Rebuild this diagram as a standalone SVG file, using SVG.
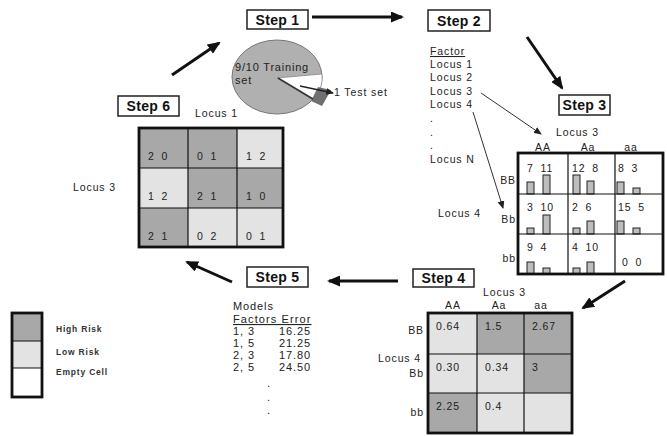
<svg xmlns="http://www.w3.org/2000/svg" width="667" height="436" viewBox="0 0 667 436">
<style>
text{font-family:"Liberation Sans",Arial,sans-serif;fill:#222}
.t{font-size:10.5px;letter-spacing:0.9px}
.step{font-size:14px;font-weight:bold;letter-spacing:0.3px;fill:#111}
.sbox{fill:#fff;stroke:#222;stroke-width:1.5}
.dk{fill:#a8a8a8}
.lt{fill:#e3e3e3}
.wh{fill:#fff}
.gl{stroke:#111;stroke-width:1.2;fill:none}
.gb{stroke:#111;stroke-width:2.8;fill:none}
.bar{fill:#bdbdbd;stroke:#222;stroke-width:1}
.big{stroke:#111;stroke-width:3;fill:none;marker-end:url(#ah)}
.thin{stroke:#333;stroke-width:1;fill:none;marker-end:url(#ahs)}
.leg{font-size:8.5px;font-weight:bold;letter-spacing:0.8px;fill:#333}
</style>
<defs>
<marker id="ah" markerUnits="userSpaceOnUse" markerWidth="13" markerHeight="11" refX="11" refY="5.5" orient="auto"><path d="M0,0 L13,5.5 L0,11 Z" fill="#111"/></marker>
<marker id="ahs" markerUnits="userSpaceOnUse" markerWidth="8" markerHeight="7" refX="7" refY="3.5" orient="auto"><path d="M0,0 L8,3.5 L0,7 Z" fill="#222"/></marker>
</defs>
<rect width="667" height="436" fill="#fff"/>

<g id="connectors">
<line class="big" x1="172" y1="75" x2="219" y2="43"/>
<line class="big" x1="312" y1="17" x2="402" y2="17"/>
<line class="big" x1="527" y1="37" x2="562" y2="88"/>
<line class="big" x1="625" y1="281" x2="583" y2="308"/>
<line class="big" x1="398" y1="281" x2="329" y2="281"/>
<line class="big" x1="232" y1="282" x2="187" y2="262"/>
<line class="thin" x1="481" y1="93" x2="541" y2="134"/>
<line class="thin" x1="473" y1="112" x2="503" y2="208"/>
</g>

<g id="step1">
<rect class="sbox" x="247" y="10" width="61" height="19"/>
<text class="step" x="277.5" y="25" text-anchor="middle">Step 1</text>
</g>
<g id="pie">
<ellipse cx="277" cy="77" rx="45" ry="37" fill="#b0b0b0" stroke="#777" stroke-width="1"/>
<path d="M277,78 L322,74 A45,37 0 0,1 313,100 Z" fill="#fff" stroke="#888" stroke-width="0.8"/>
<path d="M318,87 L331,90 L322,106 L311,101 Z" fill="#707070"/>
<line x1="278" y1="78" x2="313" y2="99" stroke="#333" stroke-width="1.5"/>
<line x1="300" y1="86" x2="333" y2="93" stroke="#222" stroke-width="1.5" marker-end="url(#ahs)"/>
<text class="t" x="235" y="71" style="font-size:11px;letter-spacing:0.8px">9/10 Training</text>
<text class="t" x="235" y="84" style="font-size:11px;letter-spacing:0.8px">set</text>
<text class="t" x="334" y="96">1 Test set</text>
</g>

<g id="step2">
<rect class="sbox" x="428" y="10" width="62" height="21"/>
<text class="step" x="459" y="26" text-anchor="middle">Step 2</text>
<text class="t" x="430" y="55" text-decoration="underline">Factor</text>
<text class="t" x="430" y="68">Locus 1</text>
<text class="t" x="430" y="81">Locus 2</text>
<text class="t" x="430" y="95">Locus 3</text>
<text class="t" x="430" y="108">Locus 4</text>
<text class="t" x="430" y="122">.</text>
<text class="t" x="430" y="136">.</text>
<text class="t" x="430" y="149">.</text>
<text class="t" x="430" y="163">Locus N</text>
</g>

<g id="step3">
<rect class="sbox" x="559" y="95" width="51" height="20"/>
<text class="step" x="584.5" y="110" text-anchor="middle">Step 3</text>
<text class="t" x="556" y="136">Locus 3</text>
<text class="t" x="543" y="151" text-anchor="middle">AA</text>
<text class="t" x="588" y="151" text-anchor="middle">Aa</text>
<text class="t" x="631" y="151" text-anchor="middle">aa</text>
<text class="t" x="516" y="184" text-anchor="end">BB</text>
<text class="t" x="516" y="223" text-anchor="end">Bb</text>
<text class="t" x="516" y="262" text-anchor="end">bb</text>
<text class="t" x="438" y="217">Locus 4</text>
<rect x="518" y="153" width="145" height="121" fill="#fff"/>
<g class="t" style="word-spacing:3px">
<text x="527" y="172">7 11</text>
<text x="572" y="172">12 8</text>
<text x="618" y="172">8 3</text>
<text x="527" y="211">3 10</text>
<text x="572" y="211">2 6</text>
<text x="618" y="211">15 5</text>
<text x="527" y="251">9 4</text>
<text x="572" y="251">4 10</text>
<text x="622" y="266">0 0</text>
</g>
<rect class="bar" x="527" y="182" width="7" height="12"/>
<rect class="bar" x="543" y="175" width="7" height="19"/>
<rect class="bar" x="573" y="175" width="7" height="19"/>
<rect class="bar" x="587" y="181" width="7" height="13"/>
<rect class="bar" x="617" y="182" width="7" height="12"/>
<rect class="bar" x="633" y="188" width="7" height="6"/>
<rect class="bar" x="527" y="228" width="7" height="6"/>
<rect class="bar" x="543" y="215" width="7" height="19"/>
<rect class="bar" x="573" y="228" width="7" height="6"/>
<rect class="bar" x="587" y="221" width="7" height="13"/>
<rect class="bar" x="617" y="221" width="7" height="13"/>
<rect class="bar" x="633" y="228" width="7" height="6"/>
<rect class="bar" x="527" y="262" width="7" height="12"/>
<rect class="bar" x="543" y="268" width="7" height="6"/>
<rect class="bar" x="573" y="268" width="7" height="6"/>
<rect class="bar" x="587" y="262" width="7" height="12"/>
<path class="gl" d="M568,153 V274 M615,153 V274 M518,194 H663 M518,234 H663"/>
<rect class="gb" x="518" y="153" width="145" height="121"/>
</g>

<g id="step4">
<rect class="sbox" x="413" y="269" width="61" height="18"/>
<text class="step" x="443.5" y="283" text-anchor="middle">Step 4</text>
<text class="t" x="483" y="296">Locus 3</text>
<text class="t" x="453" y="309" text-anchor="middle">AA</text>
<text class="t" x="499" y="309" text-anchor="middle">Aa</text>
<text class="t" x="541" y="309" text-anchor="middle">aa</text>
<text class="t" x="424" y="334" text-anchor="end">BB</text>
<text class="t" x="424" y="377" text-anchor="end">Bb</text>
<text class="t" x="424" y="416" text-anchor="end">bb</text>
<text class="t" x="378" y="362">Locus 4</text>
<rect class="lt" x="428" y="313" width="49" height="41"/>
<rect class="dk" x="477" y="313" width="47" height="41"/>
<rect class="dk" x="524" y="313" width="48" height="41"/>
<rect class="lt" x="428" y="354" width="49" height="39"/>
<rect class="lt" x="477" y="354" width="47" height="39"/>
<rect class="dk" x="524" y="354" width="48" height="39"/>
<rect class="dk" x="428" y="393" width="49" height="40"/>
<rect class="lt" x="477" y="393" width="47" height="40"/>
<rect class="lt" x="524" y="393" width="48" height="40"/>
<text class="t" x="436" y="330">0.64</text>
<text class="t" x="485" y="330">1.5</text>
<text class="t" x="532" y="330">2.67</text>
<text class="t" x="436" y="371">0.30</text>
<text class="t" x="485" y="371">0.34</text>
<text class="t" x="532" y="371">3</text>
<text class="t" x="436" y="410">2.25</text>
<text class="t" x="485" y="410">0.4</text>
<path class="gl" d="M477,313 V433 M524,313 V433 M428,354 H572 M428,393 H572"/>
<rect class="gb" x="428" y="313" width="144" height="120"/>
</g>

<g id="step5">
<rect class="sbox" x="247" y="267" width="61" height="20"/>
<text class="step" x="277.5" y="282" text-anchor="middle">Step 5</text>
<g style="font-size:11px;letter-spacing:0.9px">
<text x="233" y="310">Models</text>
<text x="233" y="323" text-decoration="underline" style="letter-spacing:1.1px">Factors Error</text>
<text x="233" y="335">1, 3</text>
<text x="311" y="335" text-anchor="end">16.25</text>
<text x="233" y="347">1, 5</text>
<text x="311" y="347" text-anchor="end">21.25</text>
<text x="233" y="359">2, 3</text>
<text x="311" y="359" text-anchor="end">17.80</text>
<text x="233" y="371">2, 5</text>
<text x="311" y="371" text-anchor="end">24.50</text>
<text x="267" y="387">.</text>
<text x="267" y="401">.</text>
<text x="267" y="414">.</text>
</g>
</g>

<g id="step6">
<rect class="sbox" x="118" y="96" width="61" height="20"/>
<text class="step" x="148.5" y="111" text-anchor="middle">Step 6</text>
<text class="t" x="195" y="117">Locus 1</text>
<text class="t" x="73" y="191">Locus 3</text>
<rect class="dk" x="139" y="128" width="49" height="40"/>
<rect class="dk" x="188" y="128" width="49" height="40"/>
<rect class="lt" x="237" y="128" width="46" height="40"/>
<rect class="lt" x="139" y="168" width="49" height="40"/>
<rect class="dk" x="188" y="168" width="49" height="40"/>
<rect class="dk" x="237" y="168" width="46" height="40"/>
<rect class="dk" x="139" y="208" width="49" height="39"/>
<rect class="lt" x="188" y="208" width="49" height="39"/>
<rect class="lt" x="237" y="208" width="46" height="39"/>
<g class="t" style="word-spacing:3px">
<text x="148" y="160">2 0</text>
<text x="197" y="160">0 1</text>
<text x="246" y="160">1 2</text>
<text x="148" y="200">1 2</text>
<text x="197" y="200">2 1</text>
<text x="246" y="200">1 0</text>
<text x="148" y="240">2 1</text>
<text x="197" y="240">0 2</text>
<text x="246" y="240">0 1</text>
</g>
<path class="gl" d="M188,128 V247 M237,128 V247 M139,168 H283 M139,208 H283"/>
<rect class="gb" x="139" y="128" width="144" height="119"/>
</g>

<g id="legend">
<rect class="dk" x="12" y="313" width="30" height="28"/>
<rect class="lt" x="12" y="341" width="30" height="27"/>
<rect class="wh" x="12" y="368" width="30" height="29"/>
<path class="gl" d="M12,341 H42 M12,368 H42"/>
<rect class="gb" x="12" y="313" width="30" height="84"/>
<text class="leg" x="56" y="332">High Risk</text>
<text class="leg" x="56" y="355">Low Risk</text>
<text class="leg" x="56" y="375">Empty Cell</text>
</g>
</svg>
